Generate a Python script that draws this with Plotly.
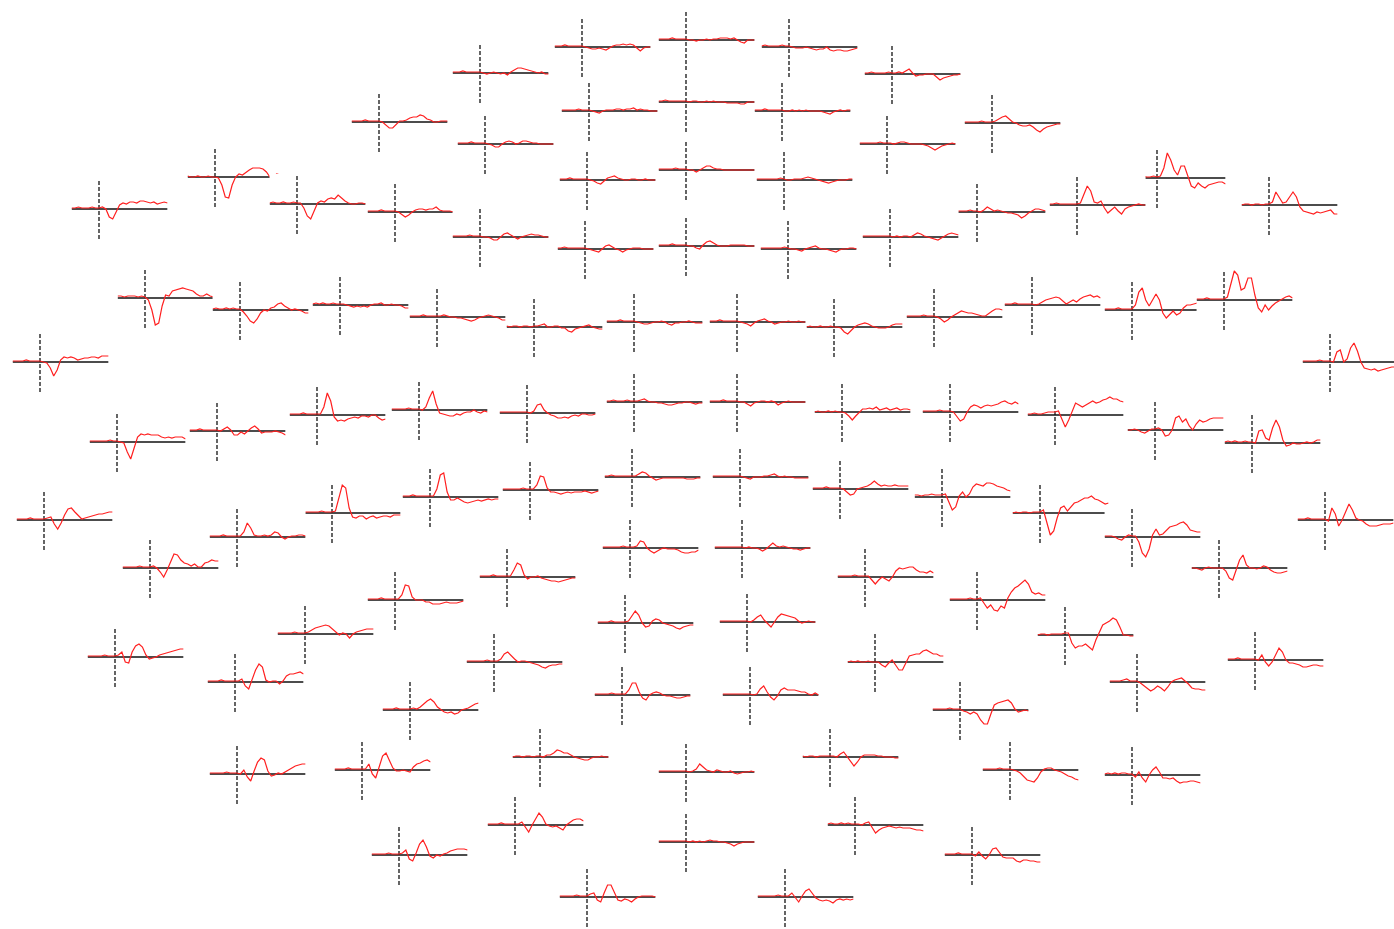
import plotly.graph_objects as go

# ---------------- data ----------------
W, H = 1394, 929
times = [-200, -175, -150, -125, -100, -75, -50, -25, 0, 25, 50, 75, 100, 125, 150, 175,
         200, 225, 250, 275, 300, 325, 350, 375, 400, 425, 450, 475, 500]  # ms

names = [f"E{i}" for i in range(1, 103)]

# sensor layout coordinates (layout px: x of time zero, y of zero line from top)
sensor_x = [582,686,789,480,892,379,589,686,782,992,
            485,887,215,1157,587,686,784,99,297,395,
            977,1077,1269,480,890,585,686,788,145,240,
            340,437,534,634,737,834,934,1032,1132,1224,
            40,1330,117,217,317,419,527,634,737,842,
            950,1055,1155,1252,44,332,430,530,632,740,
            840,942,1040,1325,237,1132,150,630,742,507,
            865,1219,395,977,305,625,747,1065,115,494,
            875,1255,235,1137,622,750,410,960,540,830,
            237,362,686,1010,1132,515,855,399,686,972,
            587,785]
sensor_y = [47,40,47,73,74,122,111,102,111,123,
            144,144,177,178,180,170,180,209,204,212,
            212,205,205,237,237,249,246,249,298,310,
            305,317,327,322,322,327,317,305,310,300,
            362,362,442,431,415,410,413,402,402,412,
            412,415,430,443,520,513,497,490,477,477,
            489,497,513,520,537,537,568,548,548,577,
            577,568,600,600,634,623,622,635,657,662,
            662,660,682,682,695,695,710,710,757,757,
            774,770,772,770,775,825,825,855,842,855,
            897,897]

# channel waveforms (uV), sampled at `times`
E1 = [1,1,1,2,1,1,1,1, 1, 0,-1,-2,-2,-1,-2,-3,-1,1,2,2,3,2,3,2,-1,-4,-1,0,0]
E2 = [1,1,1,1,2,1,1,1, 1, 0,0,-1,0,0,1,0,1,1,2,2,2,1,2,0,-2,-3,0,0,0]
E3 = [1,2,1,1,1,1,2,1, 1, 0,-1,-1,-1,0,-1,-2,-3,-2,-2,0,-3,-4,-3,-3,-4,-4,-3,-2,-1]
E4 = [1,1,1,2,1,1,1,1, 1, 0,-1,0,1,0,-1,0,-2,1,3,5,5,4,3,2,1,0,1,-1,-1]
E5 = [1,1,2,1,1,1,1,2, 1, 1,2,1,3,5,1,-2,-1,-1,0,0,0,-3,-6,-4,-3,-2,-1,-1,0]
E6 = [1,1,1,1,2,1,1,1, 1, 0,-3,-6,-6,-2,1,1,2,4,5,5,7,6,3,2,0,0,1,1,1]
E7 = [1,1,1,1,1,2,1,1, 1, 0,-1,-2,0,1,1,1,2,2,1,2,2,3,1,2,1,1,0,0,0]
E8 = [1,1,2,1,1,1,1,1, 1, 0,1,1,0,0,1,0,1,0,0,0,-1,-1,-1,-1,-2,-2,0,0,0]
E9 = [1,1,1,2,1,1,1,1, 1, 0,0,1,0,1,0,1,0,0,0,0,-1,-2,-3,-1,0,1,0,1,1]
E10 = [1,1,1,1,1,2,1,1, 1, 2,4,6,7,4,1,0,-2,-3,-3,-2,-4,-7,-9,-6,-4,-3,-2,-1,-1]
E11 = [1,1,1,1,2,1,1,1, 1, 0,-1,-3,-3,0,2,3,2,0,1,3,3,2,1,1,0,0,0,0,0]
E12 = [1,1,1,1,1,1,2,1, 1, 1,0,1,2,2,1,0,0,0,0,-1,-2,-4,-6,-4,-2,-1,0,1,0]
E13 = [1,0,0,1,0,0,1,0, 0, -1,-8,-20,-21,-8,0,3,2,5,7,9,9,9,8,5,0,0,3,2,1]
E14 = [1,2,1,1,2,1,1,2, 1, 2,10,25,18,8,3,12,12,2,-8,-10,-5,-8,-10,-7,-6,-5,-4,-4,-6]
E15 = [1,1,1,2,1,1,1,1, 1, 0,-1,-3,-4,-1,2,3,4,2,1,0,0,1,1,0,0,1,0,0,0]
E16 = [1,1,1,1,1,2,1,1, 1, 0,0,-2,0,2,4,4,2,1,1,0,0,0,0,0,0,0,0,0,0]
E17 = [1,1,1,1,1,1,1,2, 1, 0,0,1,1,1,2,3,2,1,0,-1,-2,-3,-2,-1,0,0,0,1,1]
E18 = [1,1,2,1,1,1,2,1, 1, 2,0,-8,-10,-3,4,6,5,7,7,6,8,8,7,6,7,5,6,7,6]
E19 = [1,2,1,1,2,1,1,2, 1, 1,-4,-12,-15,-6,1,3,2,5,6,5,9,6,3,1,0,0,1,1,0]
E20 = [1,1,1,1,2,1,1,1, 1, 0,-3,-5,-3,0,2,3,3,2,3,3,5,2,1,1,1,0,0,-2,-3]
E21 = [1,1,1,1,1,1,2,1, 1, 0,2,5,3,1,2,1,0,-1,-1,-2,-3,-6,-4,-1,1,3,3,2,1]
E22 = [1,1,2,1,1,1,1,1, 1, 2,10,19,14,3,2,4,-3,-8,-5,-2,-6,-9,-4,-2,-1,0,1,0,0]
E23 = [0,1,1,0,1,1,0,1, 1, 3,13,8,2,3,8,13,8,-2,-6,-7,-8,-9,-7,-8,-7,-6,-5,-9,-9]
E24 = [1,1,1,1,1,2,1,1, 1, 0,0,-1,-3,-3,0,3,4,2,0,-2,0,1,2,3,2,2,1,0,0]
E25 = [1,1,1,1,1,1,1,1, 1, 0,1,0,1,1,0,2,4,3,1,0,-1,-2,-3,-1,1,3,4,3,2]
E26 = [1,1,2,1,1,1,1,1, 1, 0,-1,-2,-3,0,3,4,2,0,-1,-3,-1,0,1,1,1,0,0,0,0]
E27 = [1,1,1,1,2,1,1,1, 1, 0,0,-2,-3,1,4,5,3,1,0,0,0,1,1,1,1,1,0,0,0]
E28 = [1,1,1,1,1,1,1,2, 1, 0,0,-1,-2,0,1,2,3,1,0,0,-1,-2,-3,-1,0,0,1,1,0]
E29 = [2,2,1,2,2,2,1,2, 1, -2,-12,-27,-25,-8,3,2,7,8,9,10,9,8,7,4,2,2,4,2,1]
E30 = [1,2,1,1,2,1,2,1, 1, -2,-6,-11,-13,-9,-3,0,-1,2,3,6,7,4,2,0,1,0,-1,-3,-3]
E31 = [1,2,1,2,1,1,2,1, 1, 1,0,-1,-2,-1,-2,-1,-2,0,1,1,2,0,0,1,0,0,-1,-3,-3]
E32 = [1,1,1,1,2,1,1,1, 1, 1,2,1,0,0,-1,-1,-2,-3,-4,-3,-1,0,1,2,1,0,-1,-3,-3]
E33 = [1,0,1,1,0,1,1,0, 1, 1,2,3,0,0,1,1,-1,-1,-4,-5,-2,-1,0,1,2,0,-1,-2,-2]
E34 = [1,1,1,1,2,1,1,1, 1, 0,-1,-2,-2,-1,0,0,1,0,-2,-3,-1,-1,0,0,1,0,-1,-1,-1]
E35 = [1,1,1,2,1,1,1,1, 1, 0,-1,-2,-4,-1,1,2,3,1,0,-2,-1,0,0,1,0,0,1,0,0]
E36 = [0,1,0,0,1,0,0,1, 0, 0,-1,-5,-7,-3,0,2,3,4,3,1,0,-1,-1,-1,0,2,3,3,3]
E37 = [1,1,1,1,1,2,1,1, 1, 0,-2,-5,-3,0,2,4,6,5,4,4,3,2,1,1,4,6,8,8,7]
E38 = [1,1,1,2,1,1,1,1, 1, 0,1,3,5,6,7,8,7,4,1,3,5,3,6,8,9,10,8,9,7]
E39 = [1,1,1,1,2,1,1,1, 1, 5,18,22,10,4,10,16,10,-3,-8,-4,-1,-5,-3,2,5,5,6,7,6]
E40 = [1,1,1,2,1,1,1,1, 1, 3,15,29,25,10,12,22,22,5,-8,-12,-5,-10,-6,-3,-1,1,3,4,2]
E41 = [1,1,1,1,2,1,1,1, 1, 0,-1,-6,-14,-8,2,5,4,5,4,2,3,4,4,5,5,4,6,6,6]
E42 = [1,1,1,1,1,2,1,1, 1, 0,10,12,0,3,14,19,11,0,-6,-7,-8,-7,-9,-8,-7,-6,-5,-5,-5]
E43 = [1,1,1,1,1,1,2,1, 1, 0,-1,-10,-17,-6,5,8,7,8,7,7,7,5,4,5,4,5,5,5,3]
E44 = [1,1,1,2,1,1,1,1, 1, 0,2,4,1,-4,-4,-1,-3,0,3,5,2,-2,-1,-1,-1,0,-1,-2,-4]
E45 = [1,1,1,1,2,1,1,1, 1, 1,8,22,14,-2,-6,-5,-6,-4,-3,-2,-3,-1,-1,-2,0,0,-3,-5,-4]
E46 = [1,1,1,1,1,2,1,1, 1, 0,3,12,19,6,-3,-4,-5,-6,-6,-4,-5,-3,-2,-2,0,-2,-3,-1,-2]
E47 = [1,1,1,1,1,1,1,1, 1, 0,2,8,9,3,0,-2,-3,-5,-5,-4,-5,-3,-2,-3,-1,-1,-2,-2,-1]
E48 = [1,1,2,1,1,1,2,1, 1, 1,2,3,1,0,0,-1,-1,-2,-3,-3,-2,-1,-1,0,0,-1,-2,-1,-1]
E49 = [1,1,1,1,2,1,1,1, 1, 0,0,-2,-4,-1,0,1,1,0,1,0,-3,-1,0,1,0,0,0,0,0]
E50 = [0,1,0,0,1,0,1,0, 0, -1,-4,-8,-4,0,3,3,4,3,5,2,3,4,2,3,4,2,3,3,2]
E51 = [1,1,1,1,1,2,1,1, 1, 0,-4,-9,-7,0,5,7,6,4,6,7,6,7,8,10,11,9,8,10,8]
E52 = [1,1,2,1,1,2,3,3, 3, 4,-5,-12,-5,4,12,10,8,10,12,14,12,13,15,16,18,16,16,14,13]
E53 = [0,0,1,0,-2,-3,-1,1, 1, 2,0,-6,-5,0,12,14,8,11,4,0,6,10,8,9,11,12,12,12,12]
E54 = [1,2,1,2,1,1,2,1, 1, 0,12,13,5,3,15,23,16,3,-3,-2,0,-1,-1,0,1,0,1,3,3]
E55 = [1,1,1,1,2,1,1,1, 1, 2,3,-4,-9,-3,5,11,12,8,4,1,2,3,4,5,6,6,7,8,8]
E56 = [1,1,1,1,1,2,1,1, 1, 2,15,28,25,5,-4,-5,-3,-3,-6,-4,-3,-5,-4,-3,-3,-4,-2,-2,-2]
E57 = [1,1,1,2,1,1,1,1, 1, 1,8,22,24,5,-3,-3,-1,-3,-5,-6,-5,-4,-3,-4,-3,-2,-3,-2,-2]
E58 = [1,1,1,1,1,1,2,1, 1, 1,5,14,13,2,-2,-2,-3,-4,-3,-2,-3,-2,-2,-2,-1,-2,-3,-2,-1]
E59 = [1,1,2,1,1,1,1,1, 1, 1,3,5,4,1,-1,-3,-2,-1,-1,-1,-1,-1,-1,-1,-2,-2,-2,-1,-1]
E60 = [1,1,1,1,1,1,1,1, 1, 0,-1,-2,0,0,0,1,1,2,3,1,0,1,0,0,-1,-1,-1,-1,-1]
E61 = [1,1,1,1,2,1,1,1, 1, 0,-3,-6,-5,0,1,2,3,5,8,5,3,4,3,3,4,3,3,3,3]
E62 = [2,2,1,2,2,3,2,2, 2, 3,-5,-13,-10,1,5,0,3,10,13,12,11,14,14,13,11,10,9,7,6]
E63 = [0,1,0,1,1,0,1,1, 1, 3,-10,-22,-18,-5,5,7,2,6,10,11,13,15,15,17,14,13,11,9,10]
E64 = [1,1,1,2,1,1,1,1, 1, -1,12,6,-6,0,8,16,10,2,0,-1,-4,-6,-6,-6,-5,-4,-4,-4,-3]
E65 = [1,1,1,1,2,1,1,1, 1, 1,5,14,9,2,1,1,2,1,2,5,4,0,-2,0,1,1,2,2,1]
E66 = [1,1,1,0,-2,-3,0,2, 1, 1,-5,-16,-20,-12,2,8,2,3,6,10,11,12,14,15,12,7,6,5,5]
E67 = [1,1,1,1,1,2,1,1, 1, 2,0,-4,-9,-2,6,14,13,8,5,4,2,4,1,1,5,6,8,7,7]
E68 = [1,1,1,1,1,1,2,1, 1, 1,2,7,6,0,-3,-5,-3,-1,0,-1,-1,-1,-2,-4,-5,-5,-4,-4,-2]
E69 = [1,1,1,1,1,1,1,1, 1, 0,1,0,0,-1,-3,-1,2,5,2,1,2,1,0,-1,-1,-2,-1,0,0]
E70 = [1,1,1,1,2,1,1,1, 1, 1,7,14,12,2,-2,0,0,1,-1,-2,-3,-4,-4,-5,-4,-3,-2,-1,-1]
E71 = [1,1,1,1,1,2,1,1, 1, 1,-3,-7,-3,0,-2,-4,0,6,9,8,9,10,10,7,5,5,4,6,4]
E72 = [0,0,-1,-2,0,1,0,0, 0, 0,-3,-10,-12,-3,8,13,3,0,0,-1,0,2,1,-2,-4,-5,-5,-4,-3]
E73 = [1,1,1,1,2,1,1,1, 1, 1,5,15,14,3,0,0,0,-2,-2,-4,-4,-4,-3,-2,-3,-3,-3,-2,-1]
E74 = [1,1,1,1,1,1,2,1, 1, 2,-3,-8,-5,-10,-11,-6,-8,2,8,12,14,17,20,16,8,6,7,5,5]
E75 = [1,1,1,1,1,2,1,1, 1, 2,4,6,7,8,9,8,5,2,-1,1,0,-4,0,2,3,4,5,5,5]
E76 = [1,1,1,1,2,1,1,1, 1, 2,7,12,8,0,-4,-3,2,4,3,0,-1,-2,-3,-5,-6,-4,-3,-2,-2]
E77 = [1,1,1,1,1,1,1,1, 1, 0,2,5,7,2,-2,-5,0,5,8,7,6,5,4,1,-1,0,1,0,0]
E78 = [0,1,1,0,1,1,1,1, 2, 2,-8,-13,-11,-11,-9,-12,-15,-5,3,10,12,14,17,15,8,0,0,-1,-1]
E79 = [1,1,1,1,1,2,1,1, 1, 2,5,-5,-6,5,11,13,10,2,-2,-1,0,2,3,4,5,6,7,8,8]
E80 = [1,1,1,1,1,1,2,1, 1, 1,3,8,10,6,3,0,1,1,0,-1,-2,-3,-5,-6,-4,-3,-3,-2,-2]
E81 = [0,1,0,1,0,0,1,0, 0, 0,-3,-5,-1,2,-3,-8,-8,-1,6,7,8,8,11,12,10,8,8,6,6]
E82 = [1,1,1,2,1,1,1,1, 1, 0,5,-2,-6,-2,5,12,8,0,-3,-3,-4,-5,-7,-7,-6,-5,-5,-6,-6]
E83 = [1,1,1,1,2,1,1,1, 1, 1,3,-4,-7,2,12,18,15,2,0,1,1,-2,1,6,8,8,9,10,8]
E84 = [1,1,1,1,2,3,1,1, 1, -1,-4,-6,-9,-7,-4,-6,-9,-5,0,2,3,4,1,-2,-6,-7,-7,-8,-8]
E85 = [1,1,1,1,1,2,1,1, 1, 1,5,12,12,3,-3,-5,0,2,3,2,0,-1,-1,-2,-3,-3,-2,-1,-1]
E86 = [1,1,1,1,1,1,1,1, 1, 0,1,6,9,3,-2,-5,-1,5,7,5,5,5,4,3,3,1,0,2,0]
E87 = [1,1,1,1,2,1,1,1, 1, 2,1,3,6,9,11,8,3,0,-2,-3,-2,-4,-3,0,1,2,4,6,7]
E88 = [1,1,1,1,1,2,1,1, 1, -1,-2,-4,-2,-4,-10,-14,-14,-4,5,7,8,9,10,7,1,-2,-1,0,-1]
E89 = [0,1,1,0,1,1,0,1, 1, 0,2,2,4,7,6,4,4,2,0,-1,-2,-3,-3,-1,0,0,1,0,0]
E90 = [1,0,1,1,0,1,1,1, 1, 1,0,3,5,0,-5,-9,-5,0,2,2,2,2,1,1,0,0,0,-1,-1]
E91 = [1,1,1,1,1,2,1,1, 1, 0,4,-3,-7,3,12,16,14,3,-2,-1,1,0,2,4,6,8,9,10,10]
E92 = [1,1,1,1,2,1,1,1, 1, 1,6,-4,-8,3,14,17,10,2,-1,-1,0,-1,-2,3,6,7,9,10,8]
E93 = [1,1,1,1,1,1,1,1, 1, 0,1,3,8,5,2,1,0,2,1,0,0,1,-1,-2,-1,0,0,1,0]
E94 = [1,1,1,1,1,2,1,1, 1, 0,-1,-3,-7,-10,-11,-12,-8,-2,1,2,2,0,-1,-2,-4,-6,-7,-9,-10]
E95 = [1,2,1,2,1,2,2,1, 1, -2,3,-3,-7,0,5,8,3,-3,-3,-4,-3,-6,-8,-7,-7,-6,-6,-7,-8]
E96 = [1,1,1,1,2,1,1,1, 1, 1,3,-2,-7,0,6,12,8,1,-1,-2,-1,-3,-5,0,3,5,6,6,4]
E97 = [1,2,1,1,2,1,2,1, 1, 1,0,2,3,-3,-8,-5,-3,-2,-1,-2,-3,-2,-3,-3,-3,-4,-5,-5,-6]
E98 = [1,1,1,1,1,2,1,1, 1, 2,5,-4,-6,2,11,15,8,-1,-3,0,-1,1,2,4,5,6,6,6,5]
E99 = [1,1,1,1,1,1,1,1, 1, 0,1,0,1,0,1,2,1,1,0,0,-1,-2,-4,-2,-1,0,0,0,0]
E100 = [1,1,1,1,2,1,1,1, 1, -1,3,-1,-4,0,6,7,3,-2,-3,-3,-3,-6,-7,-5,-5,-6,-6,-7,-7]
E101 = [1,1,1,1,1,2,1,1, 1, 3,4,-3,-5,4,12,12,4,-3,-4,-2,-3,-5,-2,0,1,1,1,1,0]
E102 = [1,1,1,1,1,1,2,1, 1, 1,4,-1,-5,1,6,8,4,-1,-3,-4,-3,-4,-6,-3,-2,-3,-2,-3,-2]

# ---------------- figure ----------------
T0, T1 = times[0], times[-1]
V0, V1 = -30, 30           # y-limits of every channel box (uV)
BOX_W, BOX_H = 96, 60      # size of a channel box in layout px

waves = [globals()[n] for n in names]
fig = go.Figure()
layout_axes = {}

for i, (name, sx, sy, vals) in enumerate(zip(names, sensor_x, sensor_y, waves)):
    assert len(vals) == len(times), (name, len(vals))
    k = i + 1
    xs = "x" if k == 1 else f"x{k}"
    ys = "y" if k == 1 else f"y{k}"
    xkey = "xaxis" if k == 1 else f"xaxis{k}"
    ykey = "yaxis" if k == 1 else f"yaxis{k}"

    left = sx + T0 * BOX_W / (T1 - T0)
    right = left + BOX_W
    xr = [T0, T1]
    if right > W:
        xr[1] = T0 + (W - left) / BOX_W * (T1 - T0)
        right = W
    if left < 0:
        xr[0] = T0 + (0 - left) / BOX_W * (T1 - T0)
        left = 0
    top = sy - BOX_H / 2
    bot = sy + BOX_H / 2

    layout_axes[xkey] = dict(domain=[left / W, right / W], range=xr, visible=False,
                             anchor=ys, fixedrange=True)
    layout_axes[ykey] = dict(domain=[1 - bot / H, 1 - top / H], range=[V0, V1],
                             visible=False, anchor=xs, fixedrange=True)

    # zero line
    fig.add_trace(go.Scatter(x=[T0, T1], y=[0, 0], mode="lines",
                             line=dict(color="#111111", width=1.6),
                             xaxis=xs, yaxis=ys, hoverinfo="skip", showlegend=False))
    # stimulus onset
    fig.add_trace(go.Scatter(x=[0, 0], y=[V0, V1], mode="lines",
                             line=dict(color="#111111", width=1.3, dash="4px,2px"),
                             xaxis=xs, yaxis=ys, hoverinfo="skip", showlegend=False))
    # evoked response
    fig.add_trace(go.Scatter(x=times, y=vals, mode="lines", name=name,
                             line=dict(color="#ff2020", width=1.2),
                             xaxis=xs, yaxis=ys, showlegend=False))

fig.update_layout(width=W, height=H, margin=dict(l=0, r=0, t=0, b=0),
                  paper_bgcolor="white", plot_bgcolor="white",
                  showlegend=False, hovermode="closest", **layout_axes)

fig.write_html("out.html", config={"displayModeBar": False},
               post_script="document.body.style.margin='0px';document.body.style.overflow='hidden';")
